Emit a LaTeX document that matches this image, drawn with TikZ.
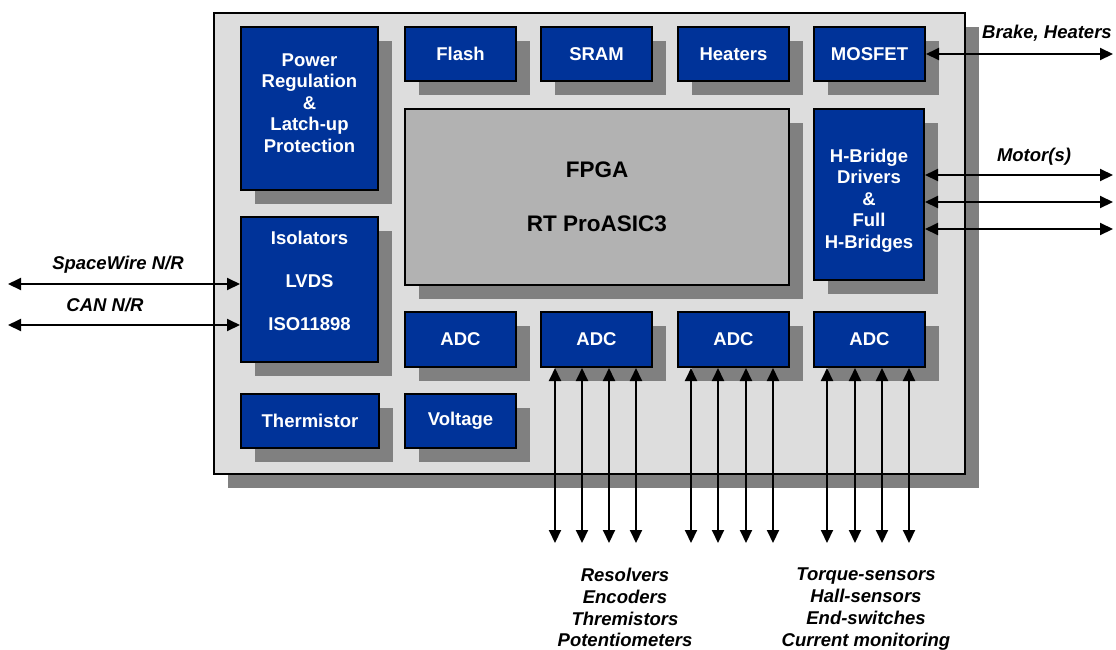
\documentclass[tikz,border=0pt]{standalone}
\usepackage{fontspec}
\setmainfont{Liberation Sans}
\usetikzlibrary{arrows.meta,shadows}
\definecolor{bluebox}{HTML}{003399}
\definecolor{boardgray}{HTML}{DDDDDD}
\definecolor{shgray}{HTML}{808080}
\definecolor{fpgagray}{HTML}{B2B2B2}
\begin{document}
\begin{tikzpicture}[x=1pt,y=-1pt,
  shadowed/.style={drop shadow={shadow xshift=14pt,shadow yshift=-14pt,fill=shgray,opacity=1}},
  blk/.style={shadowed, draw=black, line width=2pt, fill=bluebox, text=white,
    font=\fontsize{18.5}{21.5}\selectfont\bfseries, align=center, anchor=north west, inner sep=0pt},
  small/.style={blk, minimum width=111pt, minimum height=54pt},
  lbl/.style={font=\fontsize{18.5}{21.7}\selectfont\bfseries\itshape, align=center, inner sep=0pt},
  dbl/.style={line width=2pt, {Triangle[length=13pt,width=12pt]}-{Triangle[length=13pt,width=12pt]}}
]
\useasboundingbox (0,0) rectangle (1116,649);
% board
\node[shadowed, draw=black, line width=2pt, fill=boardgray, anchor=north west, inner sep=0pt,
  minimum width=751pt, minimum height=461pt] (board) at (213,12) {};
% left column
\node[blk, minimum width=137pt, minimum height=163pt] (power) at (240,26)
  {Power\\Regulation\\\&\\Latch-up\\Protection\\[-10.5pt]};
\node[blk, minimum width=137pt, minimum height=145pt,
  font=\fontsize{18.5}{43}\selectfont\bfseries] (iso) at (240,216)
  {Isolators\\LVDS\\ISO11898\\[-25pt]};
\node[blk, minimum width=138pt, minimum height=54pt] (therm) at (240,393) {Thermistor};
% top row
\node[small] (flash) at (404,26) {Flash};
\node[small] (sram) at (540,26) {SRAM};
\node[small] (heaters) at (677,26) {Heaters};
\node[small] (mosfet) at (813,26) {MOSFET};
% FPGA
\node[shadowed, draw=black, line width=2pt, fill=fpgagray, anchor=north west, inner sep=0pt,
  minimum width=384pt, minimum height=176pt, align=center,
  font=\fontsize{22.5}{54}\selectfont\bfseries] (fpga) at (404,108) {FPGA\\RT ProASIC3};
% H-bridge
\node[blk, minimum width=110pt, minimum height=171pt] (hb) at (813,108)
  {H-Bridge\\Drivers\\\&\\Full\\H-Bridges\\[-30pt]};
% ADC row
\node[small, minimum height=55pt] (adc1) at (404,311) {ADC};
\node[small, minimum height=55pt] (adc2) at (540,311) {ADC};
\node[small, minimum height=55pt] (adc3) at (677,311) {ADC};
\node[small, minimum height=55pt] (adc4) at (813,311) {ADC};
\node[small] (volt) at (404,393) {Voltage};
% right arrows
\coordinate (bh) at (1113,54);
\coordinate (m1) at (1113,175);
\coordinate (m2) at (1113,202);
\coordinate (m3) at (1113,229);
\draw[dbl] (mosfet.east |- bh) -- (bh);
\draw[dbl] (hb.east |- m1) -- (m1);
\draw[dbl] (hb.east |- m2) -- (m2);
\draw[dbl] (hb.east |- m3) -- (m3);
\node[lbl] (bhl) at (1047,33) {Brake, Heaters};
\node[lbl] (motl) at (1034,157) {Motor(s)};
% left arrows
\coordinate (sw) at (8,284);
\coordinate (can) at (8,325);
\draw[dbl] (sw) -- (sw -| iso.west);
\draw[dbl] (can) -- (can -| iso.west);
\node[lbl] (swl) at (118,264.5) {SpaceWire N/R};
\node[lbl] (canl) at (105,304.5) {CAN N/R};
% vertical arrows
\foreach \x [count=\i] in {555,582,609,636} {
  \coordinate (a\i) at (\x,543);
  \draw[dbl] (a\i |- adc2.south) -- (a\i);
}
\foreach \x [count=\i] in {691,718,746,773} {
  \coordinate (b\i) at (\x,543);
  \draw[dbl] (b\i |- adc3.south) -- (b\i);
}
\foreach \x [count=\i] in {827,855,882,909} {
  \coordinate (c\i) at (\x,543);
  \draw[dbl] (c\i |- adc4.south) -- (c\i);
}
\node[lbl, anchor=north] (sens1) at (625,568) {Resolvers\\Encoders\\Thremistors\\Potentiometers};
\node[lbl, anchor=north] (sens2) at (866,568) {Torque-sensors\\Hall-sensors\\End-switches\\Current monitoring};
\end{tikzpicture}
\end{document}
